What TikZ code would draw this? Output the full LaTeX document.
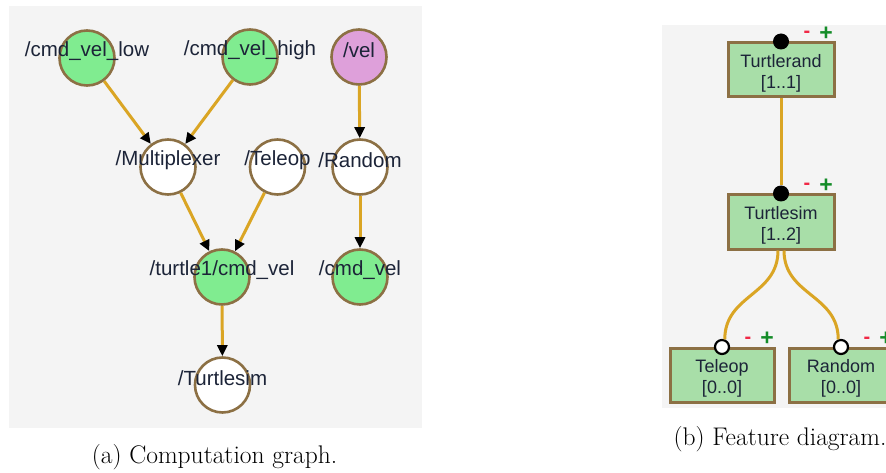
\documentclass[tikz,border=0pt]{standalone}
\usepackage{fontspec}
\usepackage{xcolor}
\usepackage{tikz}
\usetikzlibrary{arrows.meta,positioning}
\newfontfamily\graphfont{Liberation Sans}
\definecolor{bgGray}{RGB}{244,244,244}
\definecolor{topicGreen}{RGB}{128,236,144}
\definecolor{topicPink}{RGB}{222,160,218}
\definecolor{nodeBrown}{RGB}{140,112,68}
\definecolor{edgeGold}{RGB}{218,165,36}
\definecolor{featGreen}{RGB}{168,222,168}
\definecolor{txtNavy}{RGB}{28,36,56}
\definecolor{plusGreen}{RGB}{20,140,40}
\definecolor{minusRed}{RGB}{240,40,70}

\begin{document}
\begin{tikzpicture}[x=1pt,y=-1pt,
  gnode/.style={circle, draw=nodeBrown, line width=2.6pt, minimum size=55pt, inner sep=0pt, fill=white},
  glabel/.style={font=\graphfont\fontsize{20.5}{24}\selectfont, text=txtNavy, yshift=7pt},
  gedge/.style={edgeGold, line width=3pt, -{Triangle[length=11pt,width=10pt,color=black,fill=black]}},
  feat/.style={draw=nodeBrown, line width=3pt, fill=featGreen, minimum width=106pt, minimum height=54pt, inner sep=0pt},
  ftext/.style={font=\graphfont\fontsize{18}{21}\selectfont, text=txtNavy, align=center, yshift=-3pt},
  fedge/.style={edgeGold, line width=3pt},
  mand/.style={circle, fill=black, minimum size=16pt, inner sep=0pt},
  opt/.style={circle, draw=black, fill=white, line width=2.2pt, minimum size=14pt, inner sep=0pt},
  minusmark/.style={font=\graphfont\bfseries\fontsize{20}{20}\selectfont, text=minusRed, inner sep=0pt},
  plusmark/.style={font=\graphfont\bfseries\fontsize{23}{23}\selectfont, text=plusGreen, inner sep=0pt},
  caption/.style={font=\fontsize{25.5}{30}\selectfont, text=black}]
\useasboundingbox (0,0) rectangle (886,473);

% (a) computation graph
\fill[bgGray] (9,6) rectangle (422,428);
\node[gnode, fill=topicGreen, label={[glabel]center:/cmd\_vel\_low}] (low) at (87,58) {};
\node[gnode, fill=topicGreen, label={[glabel]center:/cmd\_vel\_high}] (high) at (250,57) {};
\node[gnode, fill=topicPink, label={[glabel]center:/vel}] (vel) at (359,57) {};
\node[gnode, label={[glabel]center:/Multiplexer}] (mux) at (168,167) {};
\node[gnode, label={[glabel]center:/Teleop}] (teleop) at (277.5,167) {};
\node[gnode, label={[glabel]center:/Random}] (random) at (360,167) {};
\node[gnode, fill=topicGreen, label={[glabel]center:/turtle1/cmd\_vel}] (turtle) at (222,277) {};
\node[gnode, fill=topicGreen, label={[glabel]center:/cmd\_vel}] (cmdvel) at (360,277) {};
\node[gnode, label={[glabel]center:/Turtlesim}] (sim) at (222.5,385) {};
\draw[gedge] (low) -- (mux);
\draw[gedge] (high) -- (mux);
\draw[gedge] (vel) -- (random);
\draw[gedge] (mux) -- (turtle);
\draw[gedge] (teleop) -- (turtle);
\draw[gedge] (random) -- (cmdvel);
\draw[gedge] (turtle) -- (sim);
\node[caption] (capA) at (214.5,457.5) {(a) Computation graph.};

% (b) feature diagram
\fill[bgGray] (662,25) rectangle (900,408);
\node[feat, label={[ftext]center:Turtlerand\\{[1..1]}}] (fRand) at (781,70) {};
\node[feat, label={[ftext]center:Turtlesim\\{[1..2]}}] (fSim) at (781,222) {};
\node[feat, minimum width=104pt, label={[ftext]center:Teleop\\{[0..0]}}] (fTele) at (722,375.5) {};
\node[feat, minimum width=104pt, label={[ftext]center:Random\\{[0..0]}}] (fRnd) at (841,375.5) {};
\node[mand] (randDot) at (fRand.north) {};
\node[mand] (simDot) at (fSim.north) {};
\node[opt] (teleDot) at (fTele.north) {};
\node[opt] (rndDot) at (fRnd.north) {};
\foreach \f in {fRand,fSim,fTele,fRnd} {
  \node[minusmark] (\f-minus) at ([shift={(26,-7)}]\f.north) {-};
  \node[plusmark] (\f-plus) at ([shift={(45,-8)}]\f.north) {+};
}
\draw[fedge] (fRand.south) -- (simDot);
\draw[fedge] ([xshift=-3pt]fSim.south) .. controls +(0,45) and +(0,-45) .. (teleDot.70);
\draw[fedge] ([xshift=3pt]fSim.south) .. controls +(0,45) and +(0,-45) .. (rndDot.110);
\node[caption] (capB) at (780,439) {(b) Feature diagram.};
\end{tikzpicture}
\end{document}
